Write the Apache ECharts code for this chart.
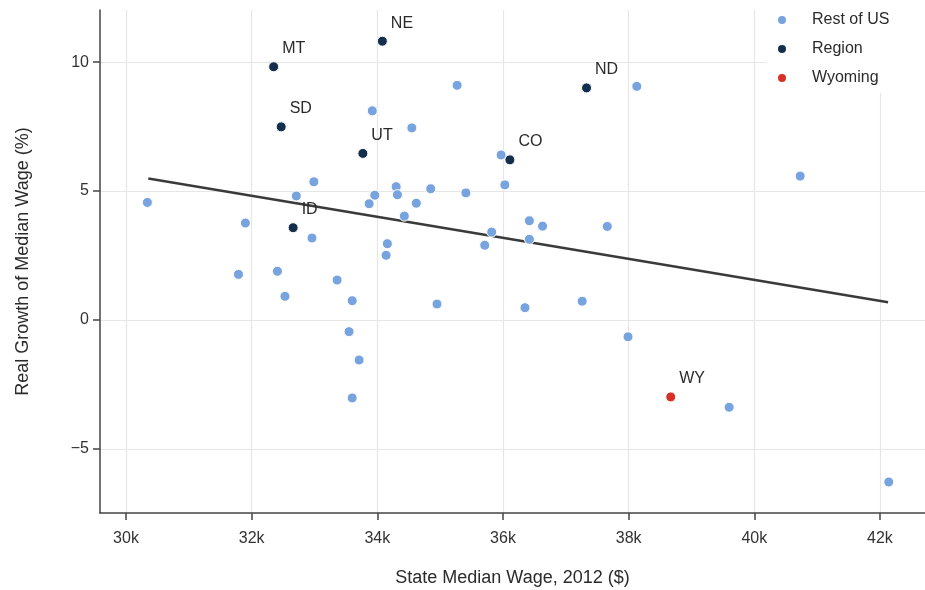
<!DOCTYPE html>
<html><head><meta charset="utf-8">
<script src="https://cdn.jsdelivr.net/npm/echarts@6/dist/echarts.min.js"></script>
<style>html,body{margin:0;padding:0;background:#fff}#c{width:925px;height:590px}</style>
</head><body><div id="c"></div>
<script>
// Rest of US: state median wage 2012 ($) and real growth of median wage (%)
const restWage = [30340, 31790, 31900, 32410, 32530, 32710, 32960, 32990, 33360, 33550,
  33600, 33600, 33710, 33870, 33920, 33960, 34140, 34160, 34300, 34320,
  34430, 34550, 34620, 34850, 34950, 35270, 35410, 35710, 35820, 35970,
  36030, 36350, 36420, 36420, 36630, 37260, 37660, 37990, 38130, 39600,
  40730, 42140];
const restGrowth = [4.56, 1.77, 3.76, 1.89, 0.92, 4.81, 3.18, 5.36, 1.55, -0.45,
  0.75, -3.02, -1.55, 4.51, 8.11, 4.84, 2.51, 2.96, 5.17, 4.86,
  4.03, 7.45, 4.53, 5.09, 0.62, 9.10, 4.93, 2.90, 3.41, 6.40,
  5.24, 0.48, 3.85, 3.13, 3.64, 0.73, 3.63, -0.65, 9.06, -3.38,
  5.58, -6.28];
// Region states
const regionStates = ['MT', 'SD', 'UT', 'ID', 'NE', 'CO', 'ND'];
const regionWage = [32350, 32470, 33770, 32660, 34080, 36110, 37330];
const regionGrowth = [9.82, 7.49, 6.46, 3.58, 10.81, 6.21, 9.00];
// Wyoming
const wyStates = ['WY'];
const wyWage = [38670];
const wyGrowth = [-2.98];
// Fitted trend line endpoints
const fitWage = [30355, 42130];
const fitGrowth = [5.49, 0.69];
// Ticks
const xTicks = [30000, 32000, 34000, 36000, 38000, 40000, 42000];
const yTicks = [-5, 0, 5, 10];

const FONT = "'Liberation Sans', Arial, Helvetica, sans-serif";
const zip = (a, b) => a.map((v, i) => [v, b[i]]);
const named = (names, a, b) => names.map((n, i) => ({ name: n, value: [a[i], b[i]] }));

const chart = echarts.init(document.getElementById('c'), null, { renderer: 'canvas' });
const labelCfg = {
  show: true, position: 'right', distance: 3, offset: [0, -18],
  formatter: p => p.name, color: '#2b2b2b', fontSize: 16, fontFamily: FONT
};
chart.setOption({
  animation: false,
  backgroundColor: '#ffffff',
  textStyle: { fontFamily: FONT },
  grid: { left: 100, right: 0, top: 10, bottom: 77, containLabel: false, outerBoundsMode: 'none' },
  legend: {
    orient: 'vertical', left: 767, top: 1,
    padding: [9, 40, 5, 9],
    backgroundColor: '#ffffff',
    itemWidth: 10, itemHeight: 10, itemGap: 9,
    icon: 'circle',
    textStyle: { fontSize: 16, color: '#2b2b2b', fontFamily: FONT, lineHeight: 20, padding: [0, 0, 0, 20] },
    data: ['Rest of US', 'Region', 'Wyoming']
  },
  xAxis: {
    type: 'value', min: 29586, max: 42717,
    name: 'State Median Wage, 2012 ($)', nameLocation: 'middle', nameGap: 56,
    nameTextStyle: { fontSize: 18, color: '#2b2b2b', fontFamily: FONT },
    axisLine: { show: true, onZero: false, lineStyle: { color: '#444', width: 1.5 } },
    axisTick: { show: true, length: 7, customValues: xTicks, lineStyle: { color: '#444', width: 1.5 } },
    axisLabel: { customValues: xTicks, margin: 18, fontSize: 16, color: '#333', fontFamily: FONT,
      formatter: v => (v / 1000) + 'k' },
    splitLine: { show: true, lineStyle: { color: '#e6e6e6', width: 1.2 } }
  },
  yAxis: {
    type: 'value', min: -7.48, max: 12.02,
    name: 'Real Growth of Median Wage (%)', nameLocation: 'middle', nameGap: 68, nameRotate: 90,
    nameTextStyle: { fontSize: 18, color: '#2b2b2b', fontFamily: FONT },
    axisLine: { show: true, onZero: false, lineStyle: { color: '#444', width: 1.5 } },
    axisTick: { show: true, length: 7, customValues: yTicks, lineStyle: { color: '#444', width: 1.5 } },
    axisLabel: { customValues: yTicks, margin: 11, fontSize: 16, color: '#333', fontFamily: FONT,
      formatter: v => v < 0 ? '\u2212' + Math.abs(v) : String(v) },
    splitLine: { show: true, lineStyle: { color: '#e6e6e6', width: 1.2 } }
  },
  series: [
    {
      name: 'Fit', type: 'line', data: zip(fitWage, fitGrowth), symbol: 'none', z: 3,
      lineStyle: { color: '#3a3a3a', width: 2.5 }, silent: true
    },
    {
      name: 'Rest of US', type: 'scatter', data: zip(restWage, restGrowth), symbolSize: 10, z: 4,
      itemStyle: { color: '#77a3df', borderColor: '#ffffff', borderWidth: 1, opacity: 1 }
    },
    {
      name: 'Region', type: 'scatter', data: named(regionStates, regionWage, regionGrowth), symbolSize: 10, z: 5,
      itemStyle: { color: '#142f4e', borderColor: '#ffffff', borderWidth: 1, opacity: 1 },
      label: labelCfg
    },
    {
      name: 'Wyoming', type: 'scatter', data: named(wyStates, wyWage, wyGrowth), symbolSize: 10, z: 5,
      itemStyle: { color: '#d63027', borderColor: '#ffffff', borderWidth: 1, opacity: 1 },
      label: labelCfg
    }
  ]
});
</script>
</body></html>
